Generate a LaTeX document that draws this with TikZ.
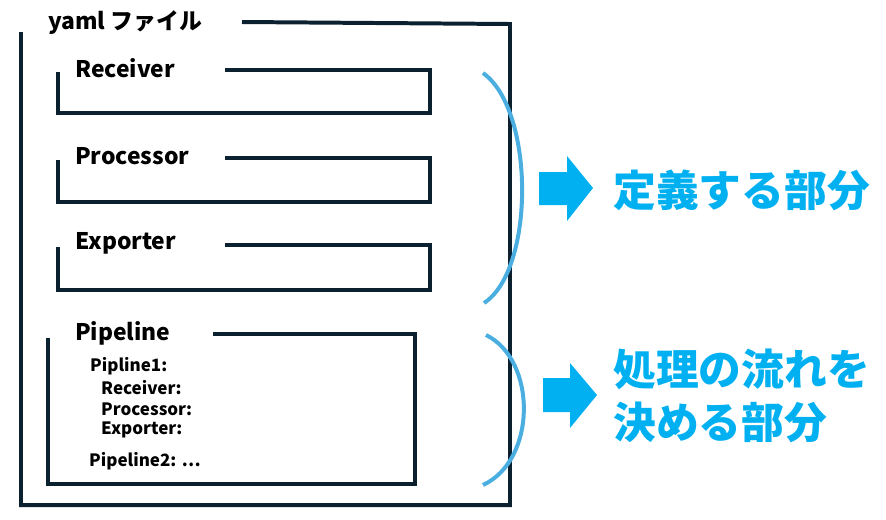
\documentclass[tikz,border=0pt]{standalone}
\usepackage{fontspec}
\setmainfont{Noto Sans CJK JP}
\definecolor{navy}{HTML}{0B2130}
\definecolor{skyblue}{HTML}{00B0F0}
\definecolor{brace}{HTML}{4AAEE0}
\tikzset{
  frame/.style = {line width=3.4pt, draw=navy},
  label/.style = {anchor=west, inner sep=0pt, font=\bfseries\fontsize{19.5}{19.5}\selectfont},
  entry/.style = {anchor=west, inner sep=0pt, font=\bfseries\fontsize{14.5}{14.5}\selectfont},
  part/.style  = {anchor=west, inner sep=0pt, text=skyblue, font=\bfseries\fontsize{36.5}{45}\selectfont, align=left},
  blockarrow/.style = {fill=skyblue},
  bracket/.style = {line width=3.4pt, draw=brace}
}

\begin{document}
\begin{tikzpicture}[x=0.03cm, y=-0.03cm]
\useasboundingbox (0,0) rectangle (886,519);
% yaml file frame
\path (48,23) node[label] (yaml) {yaml ファイル};
\draw[frame] (242,22) -- (510,24) -- (510,505) -- (21,505) -- (21,32);
% definition blocks
\path (75,68) node[label] (recv) {Receiver};
\draw[frame] (225,70) -- (430,70) -- (430,113) -- (58,113) -- (58,72);
\path (75,156) node[label] (proc) {Processor};
\draw[frame] (225,158) -- (430,158) -- (430,202) -- (58,202) -- (58,160);
\path (75,243) node[label] (expo) {Exporter};
\draw[frame] (225,245) -- (430,245) -- (430,290) -- (58,290) -- (58,247);
% pipeline block
\path (75,333) node[label] (pipe) {Pipeline};
\draw[frame] (213,334) -- (415,334) -- (415,484) -- (48,484) -- (48,338);
\path (90,366) node[entry] (pipeA) {Pipline1:};
\path (101,388) node[entry] (pipeR) {Receiver:};
\path (101,409) node[entry] (pipeP) {Processor:};
\path (101,430) node[entry] (pipeE) {Exporter:};
\path (89,461) node[entry] (pipeB) {Pipeline2: ⋯};
% brackets
\draw[bracket] (483,73) .. controls (535,110) and (535,270) .. (484,303);
\draw[bracket] (486,335) .. controls (537,360) and (537,460) .. (483,485);
% arrows and notes
\fill[blockarrow] (539,172) -- (567,172) -- (567,156) -- (593,188) -- (567,221) -- (567,205) -- (539,205) -- cycle;
\fill[blockarrow] (543,378) -- (570,378) -- (570,363) -- (597,395) -- (570,428) -- (570,412) -- (543,412) -- cycle;
\path (613,190) node[part] (defnote) {定義する部分};
\path (613,396) node[part] (flownote) {処理の流れを\\決める部分};
\end{tikzpicture}
\end{document}
